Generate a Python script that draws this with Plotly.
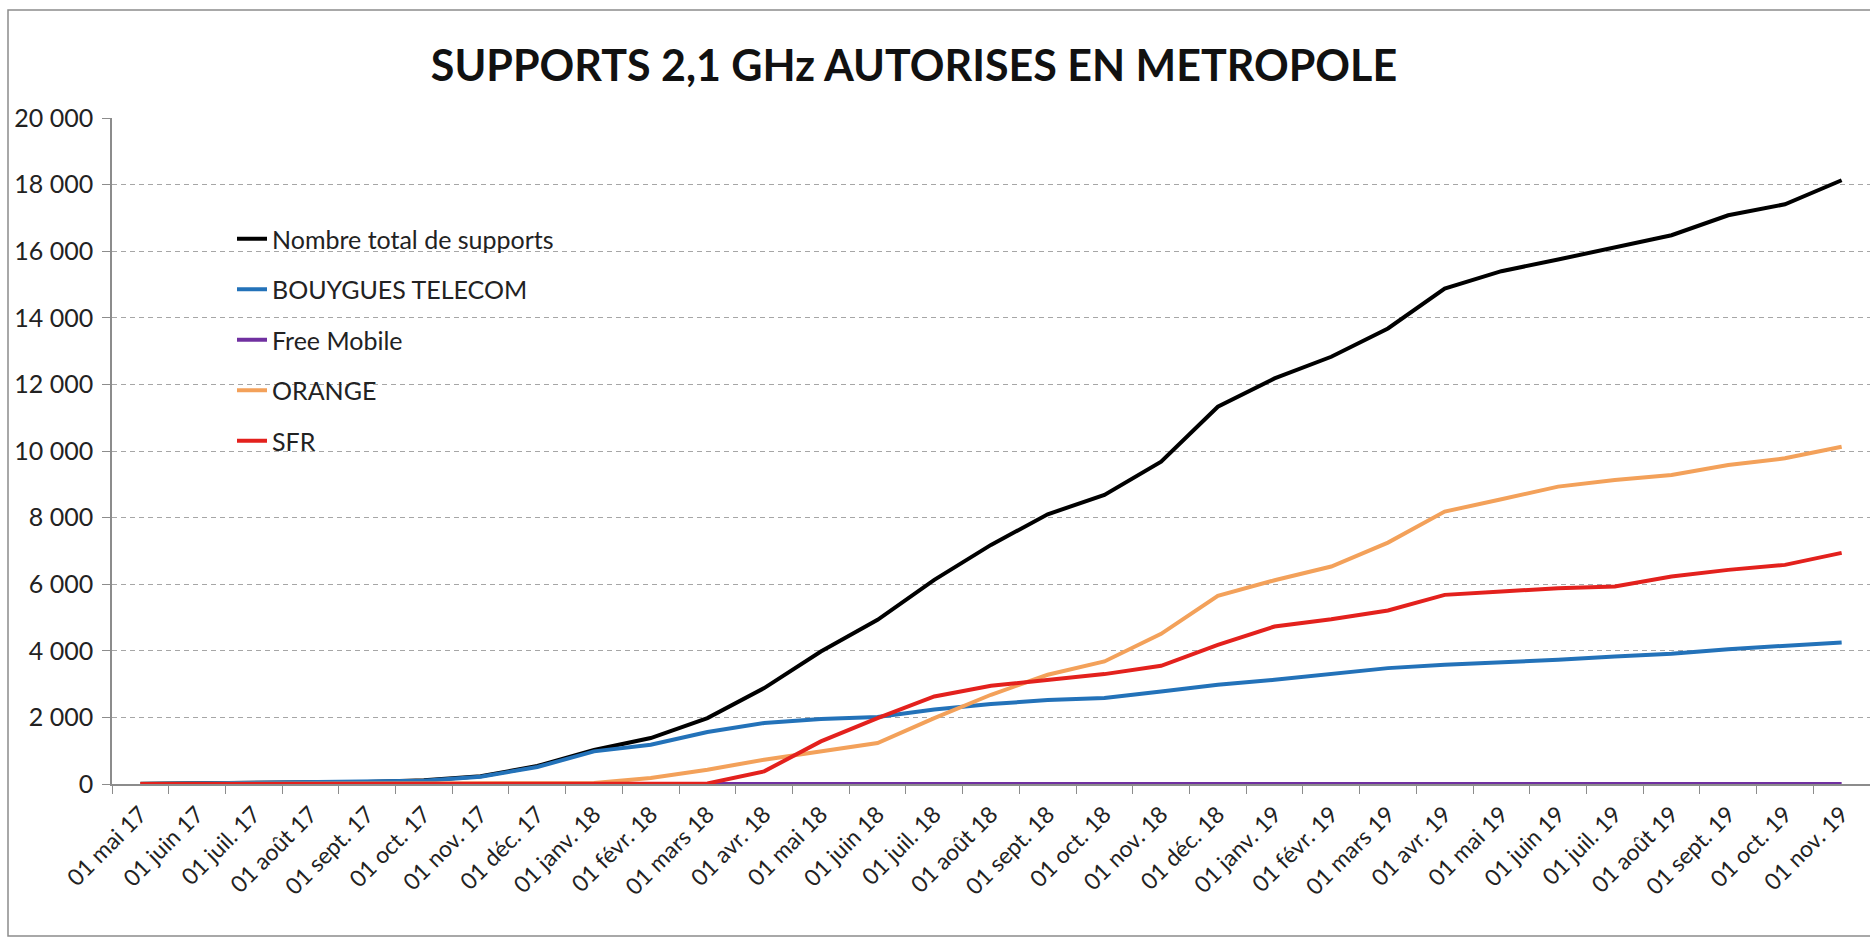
import plotly.graph_objects as go

months = ["01 mai 17", "01 juin 17", "01 juil. 17", "01 août 17", "01 sept. 17", "01 oct. 17",
          "01 nov. 17", "01 déc. 17", "01 janv. 18", "01 févr. 18", "01 mars 18", "01 avr. 18",
          "01 mai 18", "01 juin 18", "01 juil. 18", "01 août 18", "01 sept. 18", "01 oct. 18",
          "01 nov. 18", "01 déc. 18", "01 janv. 19", "01 févr. 19", "01 mars 19", "01 avr. 19",
          "01 mai 19", "01 juin 19", "01 juil. 19", "01 août 19", "01 sept. 19", "01 oct. 19",
          "01 nov. 19"]

total = [10, 20, 30, 50, 60, 110, 230, 540, 1020, 1380, 1980, 2880, 3980, 4930, 6130, 7180,
         8100, 8680, 9680, 11330, 12180, 12830, 13680, 14880, 15400, 15750, 16100, 16480,
         17080, 17410, 18130]
bouygues = [0, 15, 25, 45, 55, 100, 220, 510, 980, 1180, 1560, 1830, 1950, 2010, 2240, 2400,
            2520, 2580, 2780, 2980, 3130, 3300, 3480, 3580, 3650, 3730, 3830, 3910, 4050,
            4150, 4250]
free = [0] * 31
orange = [0, 0, 0, 0, 0, 0, 5, 10, 30, 180, 430, 730, 980, 1230, 1980, 2680, 3280, 3680,
          4510, 5650, 6120, 6530, 7250, 8180, 8550, 8930, 9130, 9280, 9580, 9780, 10130]
sfr = [0, 0, 0, 0, 0, 0, 0, 0, 0, 5, 15, 380, 1280, 1980, 2630, 2950, 3130, 3300, 3550,
       4180, 4730, 4950, 5210, 5680, 5780, 5880, 5930, 6230, 6430, 6580, 6940]

series_names = ["Nombre total de supports", "BOUYGUES TELECOM", "Free Mobile", "ORANGE", "SFR"]
series_values = [total, bouygues, free, orange, sfr]
series_colors = ["#000000", "#2372B9", "#7030A0", "#F3A15A", "#E3211D"]

y_tickvals = [0, 2000, 4000, 6000, 8000, 10000, 12000, 14000, 16000, 18000, 20000]
y_ticktext = ["0", "2 000", "4 000", "6 000", "8 000", "10 000", "12 000", "14 000",
              "16 000", "18 000", "20 000"]

title_text = "SUPPORTS 2,1 GHz AUTORISES EN METROPOLE"

FONT = "Lato, 'Open Sans', sans-serif"

fig = go.Figure()
for name, vals, col in zip(series_names, series_values, series_colors):
    fig.add_trace(go.Scatter(
        x=months, y=vals, name=name, mode="lines",
        line=dict(color=col, width=4),
        legendgroup=name, cliponaxis=False,
    ))

W, H = 1870, 938
L, R, T, B = 112, 0, 118, 154
pw = W - L - R
ph = H - T - B

fig.update_layout(
    width=W, height=H,
    margin=dict(l=L, r=R, t=T, b=B, pad=0),
    paper_bgcolor="white", plot_bgcolor="white",
    font=dict(family=FONT, size=21, color="#222222"),
    title=dict(text="<b>" + title_text + "</b>", x=914 / W, xanchor="center",
               y=1 - 66 / H, yanchor="middle", xref="container", yref="container",
               font=dict(family=FONT, size=43, color="#111111")),
    showlegend=True,
    legend=dict(x=(232 - L) / pw, xanchor="left", y=1 - (216 - T) / ph, yanchor="top",
                bgcolor="rgba(0,0,0,0)", borderwidth=0, tracegroupgap=15,
                font=dict(family=FONT, size=25, color="#222222")),
    xaxis=dict(type="category", range=[-0.5, 30.5], tickangle=-45,
               showline=True, linecolor="#8C8C8C", linewidth=1.5,
               ticks="outside", tickson="boundaries", ticklen=8, tickcolor="#8C8C8C",
               showgrid=False, ticklabelstandoff=6,
               tickfont=dict(family=FONT, size=23, color="#222222")),
    yaxis=dict(range=[0, 20000], tickvals=y_tickvals, ticktext=y_ticktext,
               showline=True, linecolor="#8C8C8C", linewidth=1.5,
               ticks="outside", ticklen=8, tickcolor="#8C8C8C",
               showgrid=True, gridcolor="#A6A6A6", griddash="5px,4px", gridwidth=1,
               zeroline=False, ticklabelstandoff=4,
               tickfont=dict(family=FONT, size=25, color="#222222")),
)

# outer chart frame (thin grey border)
fig.add_shape(type="rect", xref="paper", yref="paper",
              x0=(8 - L) / pw, x1=(W + 5 - L) / pw,
              y0=-(936 - (T + ph)) / ph, y1=1 + (T - 10) / ph,
              line=dict(color="#8C8C8C", width=1.5), layer="below")

fig.write_html("out.html", config={"displayModeBar": False},
               post_script="document.body.style.margin='0px';")
